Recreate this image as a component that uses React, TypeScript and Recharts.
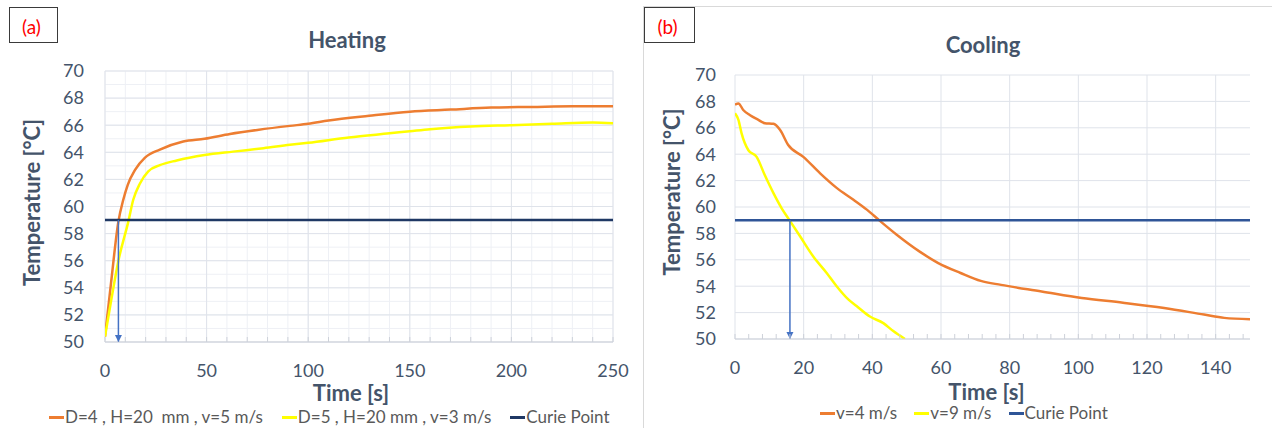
import React from "react";
import {
  LineChart,
  Line,
  XAxis,
  YAxis,
  CartesianGrid,
  Legend,
} from "recharts";

// ---- (a) Heating ----
const HEAT_ORANGE_T = [0, 3, 6.6, 9, 11.2, 14.8, 19.7, 27, 38.5, 49, 61.5, 75, 91, 100, 110, 130, 150, 170, 190, 210, 230, 250];
const HEAT_ORANGE = [50.4, 54.4, 58.9, 60.5, 61.6, 62.7, 63.6, 64.2, 64.8, 65.0, 65.35, 65.65, 65.95, 66.1, 66.35, 66.7, 67.0, 67.15, 67.3, 67.35, 67.4, 67.4];
const HEAT_YELLOW_T = [0, 3.3, 6.6, 11.5, 13.9, 17.2, 21.3, 27, 35.3, 49, 63, 78, 91, 100, 120, 140, 150, 160, 180, 200, 220, 240, 250];
const HEAT_YELLOW = [50.4, 53.3, 56.0, 58.9, 60.5, 61.7, 62.6, 63.05, 63.4, 63.8, 64.05, 64.3, 64.55, 64.7, 65.1, 65.4, 65.55, 65.7, 65.9, 66.0, 66.1, 66.2, 66.15];
const HEAT_CURIE_T = [0, 250];
const HEAT_ARROW_T = 6.6;
const HEAT_X_TICKS = [0, 10, 20, 30, 40, 50, 60, 70, 80, 90, 100, 110, 120, 130, 140, 150, 160, 170, 180, 190, 200, 210, 220, 230, 240, 250];
const HEAT_X_MAJOR = [0, 50, 100, 150, 200, 250];
const HEAT_Y_TICKS = [50, 51, 52, 53, 54, 55, 56, 57, 58, 59, 60, 61, 62, 63, 64, 65, 66, 67, 68, 69, 70];
const HEAT_Y_MAJOR = [50, 52, 54, 56, 58, 60, 62, 64, 66, 68, 70];
const HEAT_NAMES = ["D=4 , H=20  mm , v=5 m/s", "D=5 , H=20 mm , v=3 m/s", "Curie Point"];

// ---- (b) Cooling ----
const COOL_ORANGE_T = [0, 1, 2.4, 4.4, 6.8, 8.7, 11.2, 13.1, 15.5, 19.9, 24.8, 29.6, 34.5, 38.4, 42.2, 47.1, 53.9, 59.2, 65.7, 71.6, 77.5, 89.3, 101, 113, 125, 136.6, 142.5, 150];
const COOL_ORANGE = [67.75, 67.85, 67.35, 66.95, 66.6, 66.35, 66.3, 65.85, 64.7, 63.8, 62.55, 61.45, 60.55, 59.8, 58.95, 57.9, 56.6, 55.75, 55.0, 54.4, 54.1, 53.6, 53.1, 52.75, 52.35, 51.85, 51.6, 51.5];
const COOL_YELLOW_T = [0, 1, 1.9, 3.9, 6.3, 8.7, 11.2, 13.6, 16, 18.9, 22.8, 26.7, 29.6, 33, 35.4, 39.3, 43.2, 46.1, 49.5];
const COOL_YELLOW = [67.1, 66.6, 65.6, 64.3, 63.8, 62.4, 61.05, 59.9, 58.95, 57.8, 56.25, 55.0, 54.0, 53.0, 52.5, 51.7, 51.2, 50.6, 50.0];
const COOL_CURIE_T = [0, 150];
const COOL_ARROW_T = 16;
const COOL_X_TICKS = [0, 4, 8, 12, 16, 20, 24, 28, 32, 36, 40, 44, 48, 52, 56, 60, 64, 68, 72, 76, 80, 84, 88, 92, 96, 100, 104, 108, 112, 116, 120, 124, 128, 132, 136, 140, 144, 148];
const COOL_X_MAJOR = [0, 20, 40, 60, 80, 100, 120, 140];
const COOL_Y_TICKS = [50, 52, 54, 56, 58, 60, 62, 64, 66, 68, 70];
const COOL_NAMES = ["v=4 m/s", "v=9 m/s", "Curie Point"];

const CURIE = 59;
const Y_MIN = 50;

const ORANGE = "#ED7D31";
const YELLOW = "#FFFF00";
const ARROW = "#4472C4";
const TEXT = "#44546A";
const LEGEND_TEXT = "#595959";
const GRID_MINOR = "#eef0f5";
const GRID_MAJOR = "#dfe3ea";
const AXIS = "#cdd1d9";
const FONT = "Lato, 'Open Sans', sans-serif";

const zip = (ts: number[], vs: number[]) => ts.map((t, i) => ({ t, v: vs[i] }));
const flat = (ts: number[], v: number) => ts.map((t) => ({ t, v }));
const arrow = (t: number) => [{ t, v: CURIE }, { t, v: Y_MIN }];

function XTick(props: any) {
  const { x, y, payload, major } = props;
  const show = payload.value % major === 0;
  return (
    <g>
      <line x1={x} x2={x} y1={y - 5} y2={y} stroke={AXIS} />
      {show && (
        <text x={x} y={y + 28} textAnchor="middle" dominantBaseline="central" fill={TEXT} fontSize={18} fontFamily={FONT}>
          {payload.value}
        </text>
      )}
    </g>
  );
}

const yTitle = (dx: number, dy: number) => (props: any) => {
  const vb = props.viewBox;
  const x = vb.x + dx;
  const y = vb.y + vb.height / 2 + dy;
  return (
    <text x={x} y={y} transform={`rotate(-90 ${x} ${y})`} textAnchor="middle" dominantBaseline="central"
      fill={TEXT} fontSize={22} fontWeight={700} fontFamily={FONT}>
      Temperature [°C]
    </text>
  );
};

const xTitle = (dx: number, dy: number) => (props: any) => {
  const vb = props.viewBox;
  const x = vb.x + vb.width / 2 + dx;
  const y = vb.y + dy;
  return (
    <text x={x} y={y} textAnchor="middle" dominantBaseline="central" fill={TEXT} fontSize={22} fontWeight={700} fontFamily={FONT}>
      Time [s]
    </text>
  );
};

const arrowHead = (p: any) =>
  p.index === 1 ? (
    <path key={`ah-${p.index}`} d={`M${p.cx - 3.5},${p.cy - 7}L${p.cx + 3.5},${p.cy - 7}L${p.cx},${p.cy}Z`} fill={ARROW} />
  ) : (
    <g key={`ah-${p.index}`} />
  );

// legend in the order of the names list, skipping helper series
function LegendRow(props: any) {
  const { payload, gap, names } = props;
  const items = (payload || [])
    .filter((e: any) => names.includes(e.value))
    .sort((a: any, b: any) => names.indexOf(a.value) - names.indexOf(b.value));
  return (
    <div style={{ display: "flex", whiteSpace: "pre", fontSize: 17, color: LEGEND_TEXT, lineHeight: "16px", fontFamily: FONT }}>
      {items.map((e: any) => (
        <div key={e.value} style={{ display: "flex", alignItems: "center", marginRight: gap }}>
          <span style={{ display: "inline-block", width: 15, height: 3, background: e.color }} />
          <span style={{ marginLeft: 1 }}>{e.value}</span>
        </div>
      ))}
    </div>
  );
}

function TagBox({ text, left, width }: { text: string; left: number; width: number }) {
  return (
    <div style={{
      position: "absolute", left, top: 7, width, height: 36, boxSizing: "border-box",
      border: "1.5px solid #3a3a3a", background: "#fff", color: "#FF0000", fontFamily: FONT,
      fontSize: 19, display: "flex", alignItems: "center", justifyContent: "center", paddingRight: 4, paddingTop: 3,
    }}>
      {text}
    </div>
  );
}

function Title({ text, cx, top }: { text: string; cx: number; top: number }) {
  return (
    <div style={{
      position: "absolute", left: cx, top, transform: "translateX(-50%)", fontFamily: FONT,
      fontSize: 22, fontWeight: 700, color: TEXT, lineHeight: "22px", whiteSpace: "nowrap",
    }}>
      {text}
    </div>
  );
}

function HeatingChart() {
  return (
    <LineChart width={640} height={428} margin={{ top: 71, right: 27, bottom: 26, left: 0 }}>
      <CartesianGrid stroke={GRID_MINOR} />
      <CartesianGrid stroke={GRID_MAJOR} horizontalValues={HEAT_Y_MAJOR} verticalValues={HEAT_X_MAJOR} />
      <XAxis
        dataKey="t" type="number" domain={[0, 250]} ticks={HEAT_X_TICKS} interval={0} allowDataOverflow
        height={60} tickSize={0} tickMargin={0} tickLine={false} axisLine={{ stroke: AXIS }}
        tick={<XTick major={50} />}
        label={{ content: xTitle(-8, 50) }}
      />
      <YAxis
        type="number" domain={[50, 70]} ticks={HEAT_Y_TICKS} interval={0} allowDataOverflow
        width={105} tickSize={0} tickMargin={21} tickLine={false} axisLine={false}
        tickFormatter={(v: number) => (v % 2 === 0 ? String(v) : "")}
        tick={{ fill: TEXT, fontSize: 18, fontFamily: FONT }}
        label={{ content: yTitle(31, -4) }}
      />
      <Legend
        layout="horizontal" verticalAlign="middle" align="center"
        wrapperStyle={{ top: 409, left: 49, width: "auto" }}
        content={(p: any) => <LegendRow {...p} gap={19} names={HEAT_NAMES} />}
      />
      <Line data={zip(HEAT_ORANGE_T, HEAT_ORANGE)} dataKey="v" name={HEAT_NAMES[0]} type="monotone"
        stroke={ORANGE} strokeWidth={2.5} dot={false} isAnimationActive={false} />
      <Line data={zip(HEAT_YELLOW_T, HEAT_YELLOW)} dataKey="v" name={HEAT_NAMES[1]} type="monotone"
        stroke={YELLOW} strokeWidth={2.5} dot={false} isAnimationActive={false} />
      <Line data={flat(HEAT_CURIE_T, CURIE)} dataKey="v" name={HEAT_NAMES[2]} type="linear"
        stroke="#1F3864" strokeWidth={2.5} dot={false} isAnimationActive={false} />
      <Line data={arrow(HEAT_ARROW_T)} dataKey="v" name="arrow" type="linear" legendType="none"
        stroke={ARROW} strokeWidth={1.5} dot={arrowHead} isAnimationActive={false} />
    </LineChart>
  );
}

function CoolingChart() {
  return (
    <LineChart width={636} height={428} margin={{ top: 75, right: 22, bottom: 29, left: 0 }}>
      <CartesianGrid stroke={GRID_MAJOR} verticalValues={COOL_X_MAJOR} />
      <XAxis
        dataKey="t" type="number" domain={[0, 150]} ticks={COOL_X_TICKS} interval={0} allowDataOverflow
        height={60} tickSize={0} tickMargin={0} tickLine={false} axisLine={{ stroke: AXIS }}
        tick={<XTick major={20} />}
        label={{ content: xTitle(-6, 52) }}
      />
      <YAxis
        type="number" domain={[50, 70]} ticks={COOL_Y_TICKS} interval={0} allowDataOverflow
        width={99} tickSize={0} tickMargin={19} tickLine={false} axisLine={false}
        tick={{ fill: TEXT, fontSize: 18, fontFamily: FONT }}
        label={{ content: yTitle(35, -15) }}
      />
      <Legend
        layout="horizontal" verticalAlign="middle" align="center"
        wrapperStyle={{ top: 405, left: 184, width: "auto" }}
        content={(p: any) => <LegendRow {...p} gap={17} names={COOL_NAMES} />}
      />
      <Line data={zip(COOL_ORANGE_T, COOL_ORANGE)} dataKey="v" name={COOL_NAMES[0]} type="monotone"
        stroke={ORANGE} strokeWidth={2.5} dot={false} isAnimationActive={false} />
      <Line data={zip(COOL_YELLOW_T, COOL_YELLOW)} dataKey="v" name={COOL_NAMES[1]} type="monotone"
        stroke={YELLOW} strokeWidth={2.5} dot={false} isAnimationActive={false} />
      <Line data={flat(COOL_CURIE_T, CURIE)} dataKey="v" name={COOL_NAMES[2]} type="linear"
        stroke="#2F5597" strokeWidth={2.5} dot={false} isAnimationActive={false} />
      <Line data={arrow(COOL_ARROW_T)} dataKey="v" name="arrow" type="linear" legendType="none"
        stroke={ARROW} strokeWidth={1.5} dot={arrowHead} isAnimationActive={false} />
    </LineChart>
  );
}

export default function App() {
  return (
    <div style={{ position: "absolute", left: 0, top: 0, width: 1272, height: 428, background: "#fff", overflow: "hidden", fontFamily: FONT }}>
      <div style={{ position: "absolute", left: 0, top: 0 }}>
        <HeatingChart />
      </div>
      <div style={{ position: "absolute", left: 643, top: 6, width: 640, height: 440, border: "1px solid #d9d9d9" }} />
      <div style={{ position: "absolute", left: 636, top: 0 }}>
        <CoolingChart />
      </div>
      <TagBox text="(a)" left={9} width={49} />
      <TagBox text="(b)" left={644} width={51} />
      <Title text="Heating" cx={347} top={29} />
      <Title text="Cooling" cx={983} top={34} />
    </div>
  );
}
